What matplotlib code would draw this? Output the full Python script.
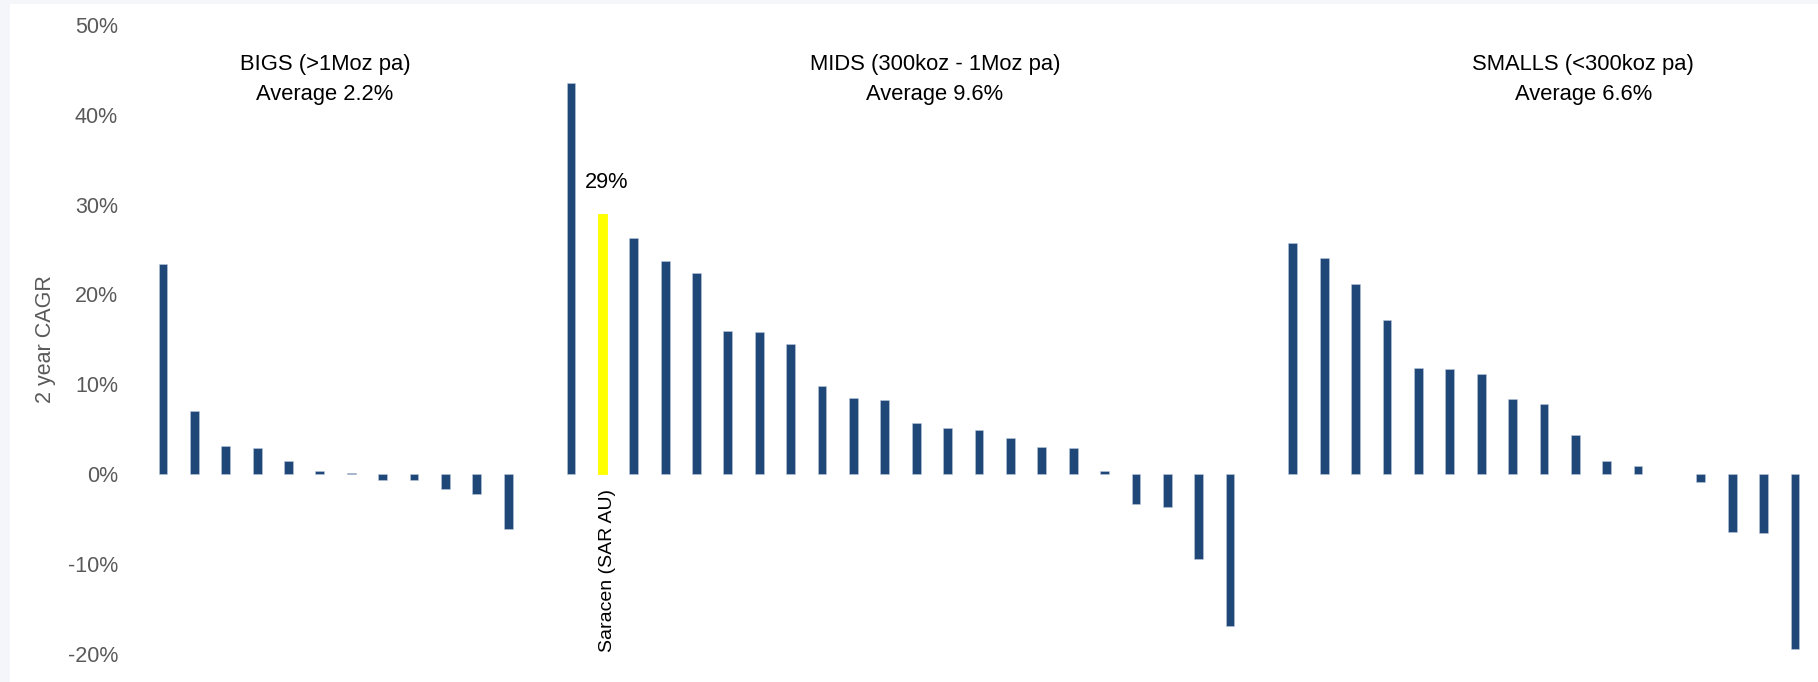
import matplotlib
matplotlib.use("Agg")
import matplotlib.pyplot as plt
from matplotlib.patches import Rectangle
from matplotlib.ticker import FixedLocator

plt.rcParams['font.family'] = ['Liberation Sans', 'DejaVu Sans']

# Data (2 year CAGR, %)
bigs = [23.4, 7.0, 3.1, 2.9, 1.45, 0.35, 0.15, -0.7, -0.7, -1.7, -2.2, -6.1]
mids = [43.5, 29.0, 26.3, 23.7, 22.4, 15.9, 15.8, 14.5, 9.8, 8.5, 8.2, 5.7,
        5.1, 4.9, 4.0, 3.0, 2.9, 0.4, -3.3, -3.6, -9.4, -16.9]
smalls = [25.7, 24.1, 21.2, 17.1, 11.8, 11.7, 11.2, 8.4, 7.8, 4.4, 1.5, 0.9,
          0.0, -0.9, -6.4, -6.5, -19.4]
group_titles = ["BIGS (>1Moz pa)", "MIDS (300koz - 1Moz pa)", "SMALLS (<300koz pa)"]
group_avgs = ["Average 2.2%", "Average 9.6%", "Average 6.6%"]
highlight_label = "Saracen (SAR AU)"
highlight_value_label = "29%"
y_ticks = [-20, -10, 0, 10, 20, 30, 40, 50]

NAVY = "#1F4778"
YELLOW = "#FFFF00"
GRAY = "#595959"

fig = plt.figure(figsize=(18.18, 6.82), dpi=100)
fig.patch.set_facecolor("white")
# light screenshot border strips
fig.patches.append(Rectangle((0, 0), 10 / 1818, 1, transform=fig.transFigure,
                             facecolor="#F4F6FA", edgecolor="none", zorder=-10))
fig.patches.append(Rectangle((0, 1 - 4 / 682), 1, 4 / 682, transform=fig.transFigure,
                             facecolor="#F4F6FA", edgecolor="none", zorder=-10))

ax = fig.add_axes([0.0741, 0.0411, 0.9236, 0.9226])

values = bigs + [None] + mids + [None] + smalls
xs, hs, cols = [], [], []
for i, v in enumerate(values):
    if v is None:
        continue
    xs.append(i)
    hs.append(v)
    cols.append(NAVY)
hl_index = len(bigs) + 1 + 1  # Saracen = 2nd of MIDS
cols[xs.index(hl_index)] = YELLOW

edges = []
for c, h in zip(cols, hs):
    if h == 0:
        edges.append("none")
    elif c == NAVY:
        edges.append((0.75, 0.8, 0.88, 0.6))
    else:
        edges.append(YELLOW)

ax.bar(xs, hs, width=0.28, color=cols, edgecolor=edges, linewidth=0.6)

ax.set_xlim(-0.9, 52.6)
ax.set_ylim(-20, 50)
ax.yaxis.set_major_locator(FixedLocator(y_ticks))
ax.set_yticklabels([f"{t}%" for t in y_ticks], fontsize=15.5, color=GRAY)
ax.tick_params(axis='y', length=0, pad=12)
ax.set_xticks([])
for s in ax.spines.values():
    s.set_visible(False)
ax.set_ylabel("2 year CAGR", fontsize=15.5, color=GRAY)
ax.yaxis.set_label_coords(-0.047, 0.5)

title_x = [5.16, 24.6, 45.25]
for tx, t1, t2 in zip(title_x, group_titles, group_avgs):
    ax.text(tx, 45.6, t1, ha='center', va='center', fontsize=15.8, color='black')
    ax.text(tx, 42.2, t2, ha='center', va='center', fontsize=15.8, color='black')

ax.text(hl_index + 0.15, 32.4, highlight_value_label, ha='center', va='center',
        fontsize=15.7, color='black')
ax.text(hl_index + 0.15, -1.7, highlight_label, ha='center', va='top', rotation=90,
        fontsize=14, color='black')

fig.savefig("out.png", dpi=100, facecolor=fig.get_facecolor())
